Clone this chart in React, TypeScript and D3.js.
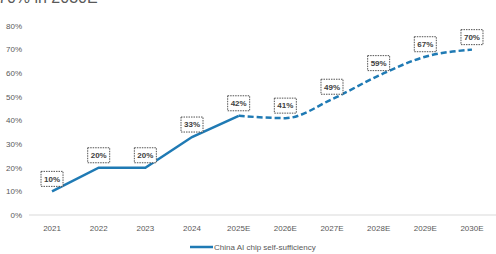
import React, { useRef, useEffect } from 'react';
import * as d3 from 'd3';

const years = ['2021', '2022', '2023', '2024', '2025E', '2026E', '2027E', '2028E', '2029E', '2030E'];
const selfSufficiency = [10, 20, 20, 33, 42, 41, 49, 59, 67, 70];
const yTicks = [0, 10, 20, 30, 40, 50, 60, 70, 80];
const seriesName = 'China AI chip self-sufficiency';
const forecastStart = '2025E';

const W = 496;
const H = 254;
const BLUE = '#1f7ab4';
const FONT = '"Liberation Sans", Arial, sans-serif';

const App: React.FC = () => {
  const svgRef = useRef<SVGSVGElement>(null);

  useEffect(() => {
    const svg = d3.select(svgRef.current);
    svg.selectAll('*').remove();

    const x = d3.scalePoint<string>().domain(years).range([28.7, 495.3]).padding(0.5);
    const y = d3.scaleLinear().domain([0, 80]).range([215, 26]);

    // headline, clipped by the top edge
    svg.append('text')
      .attr('x', -2)
      .attr('y', 3)
      .attr('font-family', FONT)
      .attr('font-size', 16)
      .attr('fill', '#595959')
      .text('70% in 2030E');

    // y axis labels
    svg.append('g')
      .selectAll('text')
      .data(yTicks)
      .join('text')
      .attr('x', 22)
      .attr('y', (d) => y(d))
      .attr('dy', '0.35em')
      .attr('text-anchor', 'end')
      .attr('font-family', FONT)
      .attr('font-size', 8)
      .attr('fill', '#595959')
      .text((d) => `${d}%`);

    // baseline
    svg.append('line')
      .attr('x1', 29)
      .attr('x2', 496)
      .attr('y1', y(0))
      .attr('y2', y(0))
      .attr('stroke', '#d9d9d9')
      .attr('stroke-width', 1);

    // x axis labels
    svg.append('g')
      .selectAll('text')
      .data(years)
      .join('text')
      .attr('x', (d) => x(d) as number)
      .attr('y', 231)
      .attr('text-anchor', 'middle')
      .attr('font-family', FONT)
      .attr('font-size', 8)
      .attr('fill', '#595959')
      .text((d) => d);

    const points = years.map((yr, i) => ({ yr, v: selfSufficiency[i] }));
    const split = years.indexOf(forecastStart);
    const actual = points.slice(0, split + 1);
    const forecast = points.slice(split);

    const straight = d3.line<{ yr: string; v: number }>()
      .x((d) => x(d.yr) as number)
      .y((d) => y(d.v));
    const smooth = d3.line<{ yr: string; v: number }>()
      .x((d) => x(d.yr) as number)
      .y((d) => y(d.v))
      .curve(d3.curveMonotoneX);

    svg.append('path')
      .datum(actual)
      .attr('fill', 'none')
      .attr('stroke', BLUE)
      .attr('stroke-width', 2.5)
      .attr('d', straight);

    svg.append('path')
      .datum(forecast)
      .attr('fill', 'none')
      .attr('stroke', BLUE)
      .attr('stroke-width', 2.5)
      .attr('stroke-dasharray', '6,3')
      .attr('d', smooth);

    // value callouts
    const labels = svg.append('g')
      .selectAll('g')
      .data(points)
      .join('g')
      .attr('transform', (d) => `translate(${x(d.yr)},${y(d.v) - 12.5})`);

    labels.append('rect')
      .attr('x', -11)
      .attr('y', -7.5)
      .attr('width', 22)
      .attr('height', 15)
      .attr('fill', 'white')
      .attr('stroke', '#404040')
      .attr('stroke-width', 0.9)
      .attr('stroke-dasharray', '1.5,1');

    labels.append('text')
      .attr('dy', '0.35em')
      .attr('text-anchor', 'middle')
      .attr('font-family', FONT)
      .attr('font-size', 8)
      .attr('font-weight', 'bold')
      .attr('fill', '#404040')
      .text((d) => `${d.v}%`);

    // legend
    const legend = svg.append('g').attr('transform', 'translate(190,247)');
    legend.append('line')
      .attr('x1', 0)
      .attr('x2', 23)
      .attr('stroke', BLUE)
      .attr('stroke-width', 2.5);
    legend.append('text')
      .attr('x', 24)
      .attr('dy', '0.35em')
      .attr('font-family', FONT)
      .attr('font-size', 8)
      .attr('fill', '#595959')
      .text(seriesName);
  }, []);

  return (
    <div style={{ position: 'fixed', left: 0, top: 0 }}>
      <svg ref={svgRef} width={W} height={H} style={{ display: 'block', background: 'white' }} />
    </div>
  );
};

export default App;
